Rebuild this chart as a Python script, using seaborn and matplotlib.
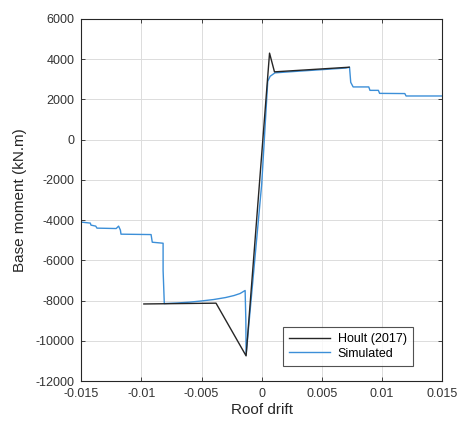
import numpy as np
import pandas as pd
import matplotlib
matplotlib.use("Agg")
import matplotlib.pyplot as plt
import seaborn as sns

# Hoult (2017) envelope
hoult_drift = [-0.0098, -0.0038, -0.0013, 0.00065, 0.00106, 0.00727]
hoult_moment = [-8170, -8130, -10750, 4300, 3370, 3600]

# Simulated response
sim_drift = [-0.0150, -0.01425, -0.01420, -0.0138, -0.0137, -0.0121, -0.0119, -0.01175, -0.0117,
             -0.0092, -0.0091, -0.0082, -0.0082, -0.0081, -0.0070, -0.0060, -0.0050, -0.0040,
             -0.0030, -0.0023, -0.0018, -0.00138, -0.00132, -0.0013, 0.0000, 0.0005, 0.0007,
             0.0011, 0.0030, 0.0050, 0.0070, 0.0073, 0.0074, 0.0076, 0.0089, 0.0090, 0.0097,
             0.0098, 0.0119, 0.0120, 0.0150]
sim_moment = [-4100, -4150, -4250, -4300, -4400, -4420, -4300, -4500, -4700,
              -4720, -5100, -5150, -6500, -8150, -8120, -8080, -8020, -7950,
              -7850, -7750, -7650, -7500, -9000, -10700, -2200, 2900, 3150,
              3320, 3400, 3480, 3560, 3600, 2850, 2620, 2620, 2450, 2450,
              2300, 2290, 2170, 2170]

plt.rcParams['font.family'] = ['Liberation Sans', 'DejaVu Sans']

fig = plt.figure(figsize=(4.62, 4.21), dpi=100)
ax = fig.add_axes([0.176, 0.095, 0.781, 0.86])

df_h = pd.DataFrame({"drift": hoult_drift, "moment": hoult_moment})
df_s = pd.DataFrame({"drift": sim_drift, "moment": sim_moment})

sns.lineplot(data=df_h, x="drift", y="moment", ax=ax, color="#262626", lw=1.0,
             sort=False, estimator=None, label="Hoult (2017)", zorder=3)
sns.lineplot(data=df_s, x="drift", y="moment", ax=ax, color="#3c8fd8", lw=1.0,
             sort=False, estimator=None, label="Simulated", zorder=2)

ax.set_xlim(-0.015, 0.015)
ax.set_ylim(-12000, 6000)
ax.set_xticks([-0.015, -0.01, -0.005, 0, 0.005, 0.01, 0.015])
ax.set_xticklabels(["-0.015", "-0.01", "-0.005", "0", "0.005", "0.01", "0.015"])
ax.set_yticks(np.arange(-12000, 6001, 2000))
ax.set_yticklabels([str(v) for v in range(-12000, 6001, 2000)])
ax.grid(True, color="#dcdcdc", lw=0.7)
ax.set_axisbelow(True)
ax.tick_params(direction="in", length=3, colors="#262626", labelcolor="#333333",
               labelsize=9, top=True, right=True, width=0.6, pad=5)
for s in ax.spines.values():
    s.set_color("#262626")
    s.set_linewidth(0.8)
ax.set_xlabel("Roof drift", fontsize=11, color="#262626", labelpad=2)
ax.set_ylabel("Base moment (kN.m)", fontsize=11, color="#262626", labelpad=6)

leg = ax.legend(loc="lower right", bbox_to_anchor=(0.937, 0.024), fontsize=9, frameon=True,
                fancybox=False, edgecolor="#262626", handlelength=3.3, borderpad=0.5,
                labelspacing=0.2, handletextpad=0.6)
leg.get_frame().set_linewidth(0.8)

fig.savefig("out.png", dpi=100)
